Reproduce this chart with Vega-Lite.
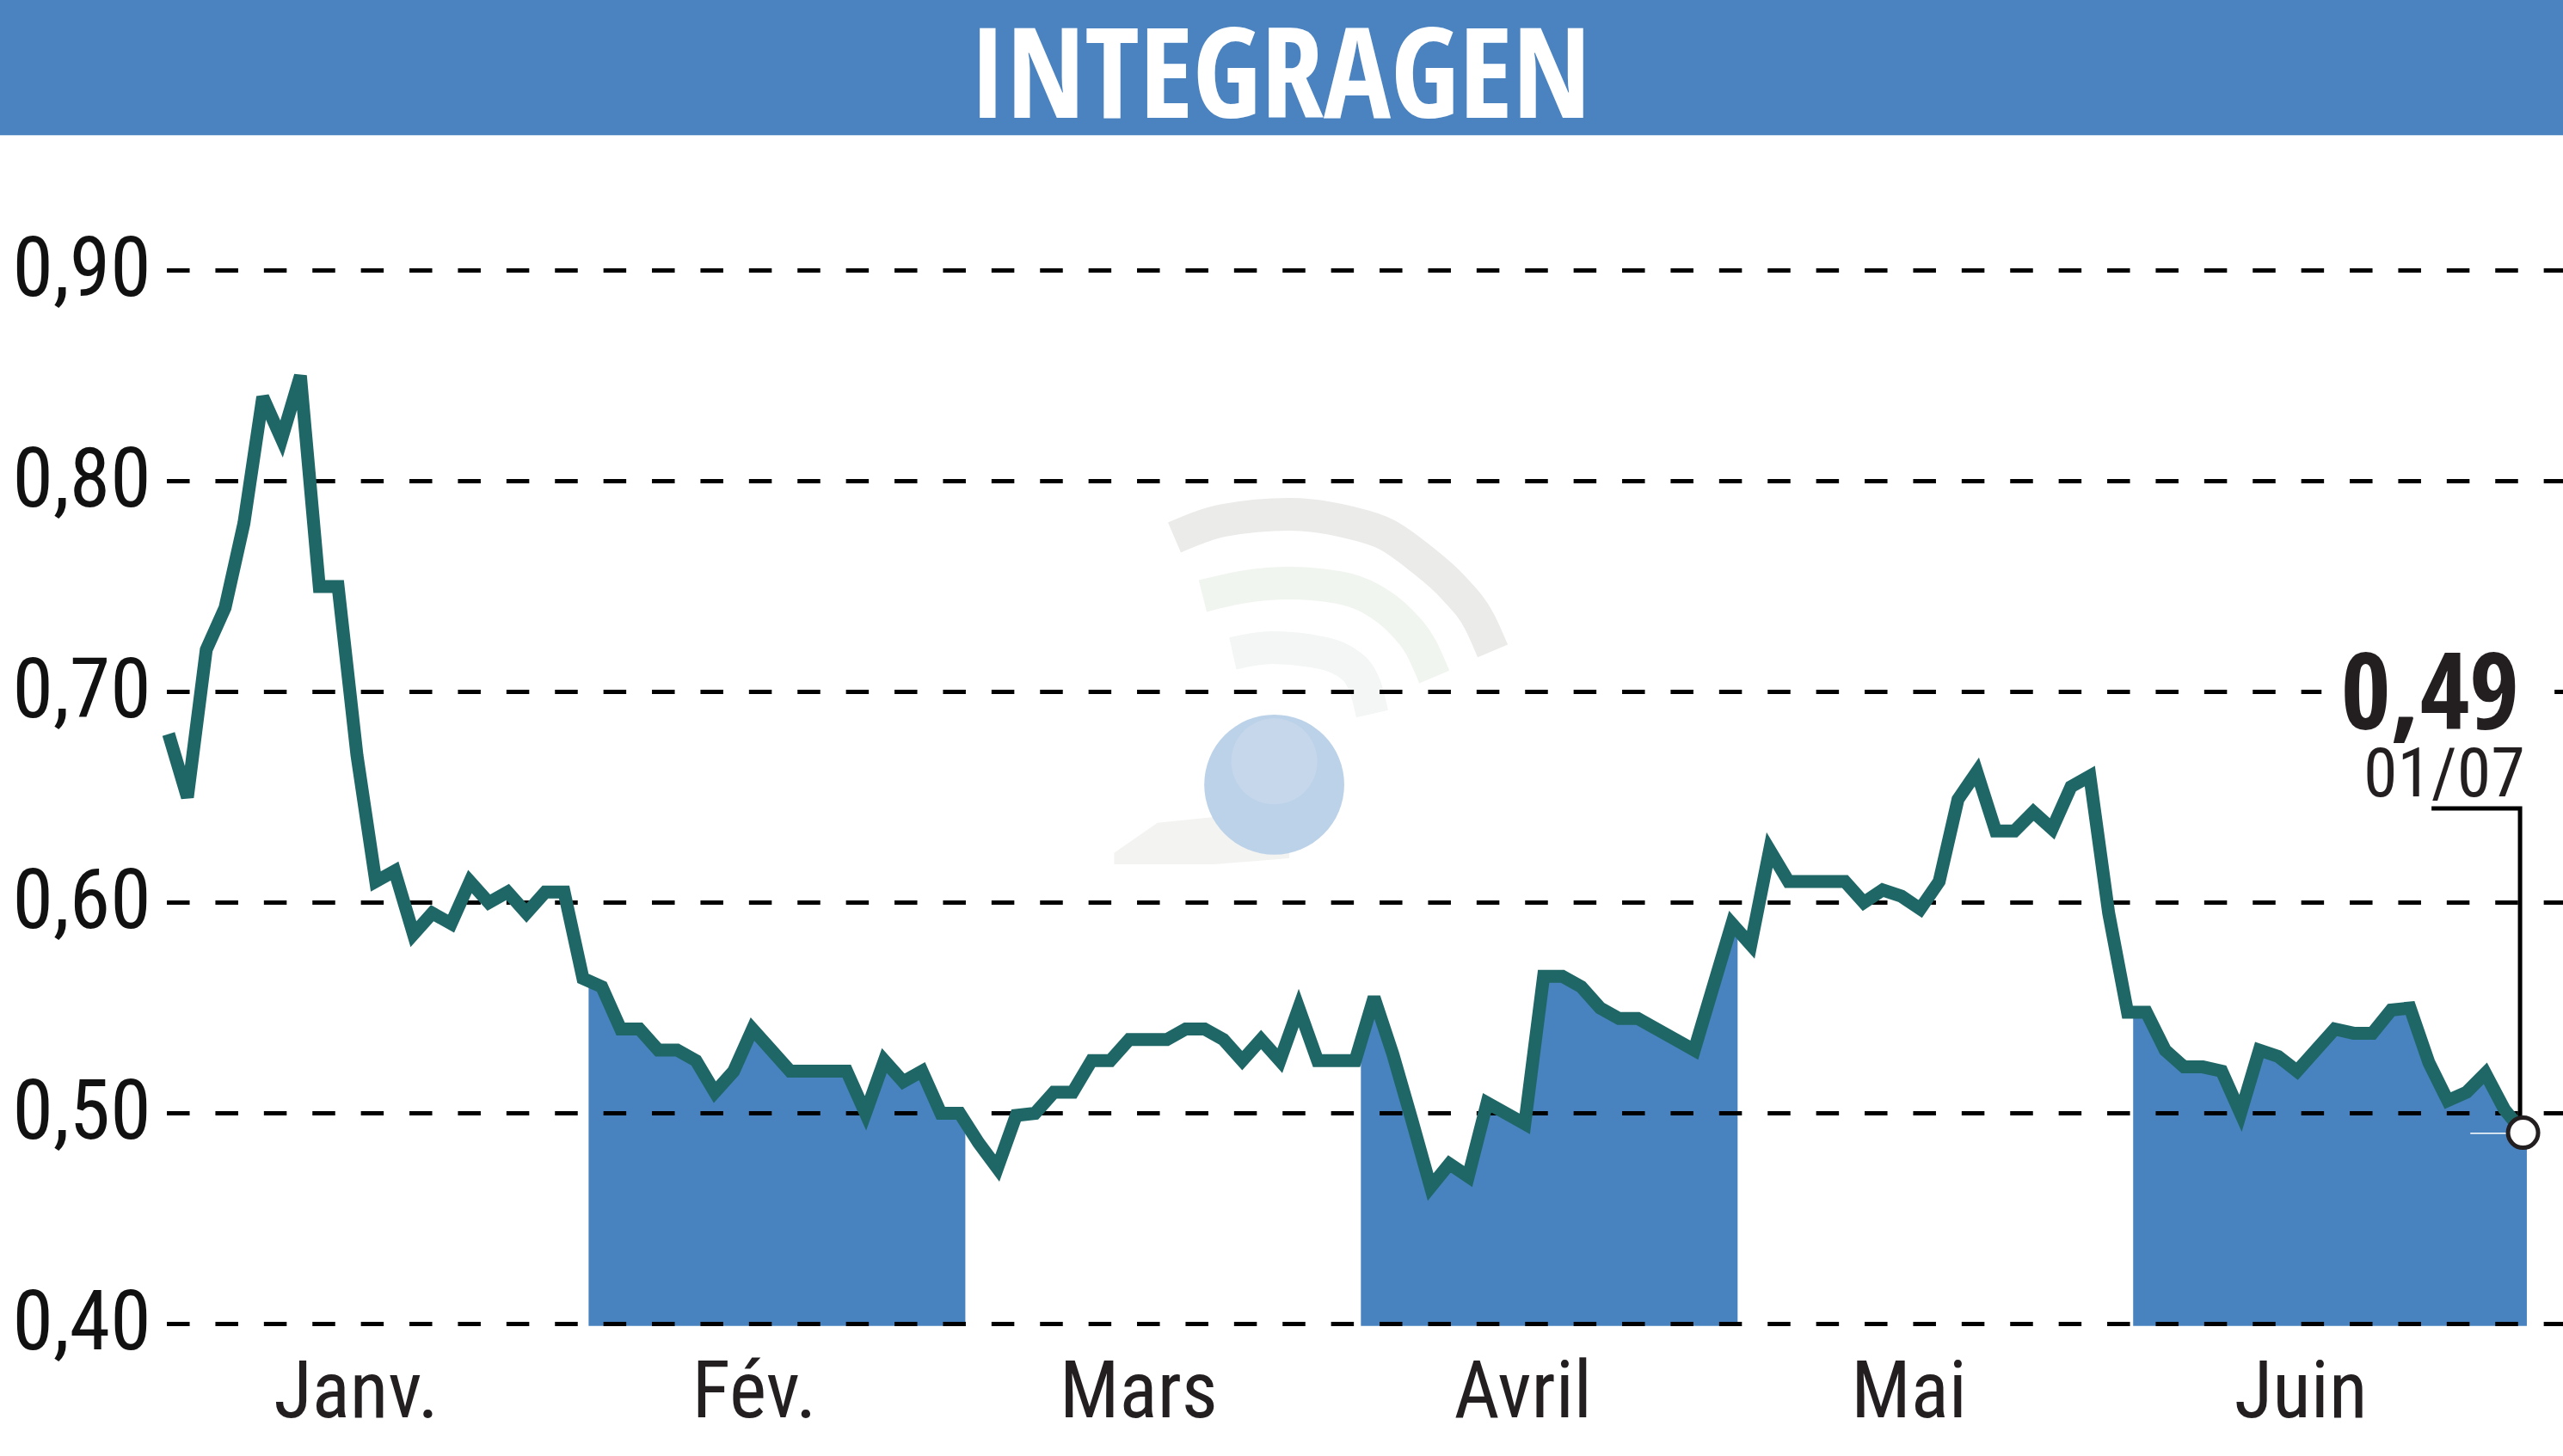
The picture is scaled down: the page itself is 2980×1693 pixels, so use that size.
{
  "$schema": "https://vega.github.io/schema/vega-lite/v6.json",
  "width": 2980,
  "height": 1693,
  "autosize": "none",
  "padding": 0,
  "background": "white",
  "config": {"view": {"stroke": null}},
  "datasets": {
    "prices": [
      {"i":0,"v":0.68,"month":"Janv."},{"i":1,"v":0.65,"month":"Janv."},{"i":2,"v":0.72,"month":"Janv."},{"i":3,"v":0.74,"month":"Janv."},{"i":4,"v":0.78,"month":"Janv."},{"i":5,"v":0.84,"month":"Janv."},{"i":6,"v":0.82,"month":"Janv."},{"i":7,"v":0.85,"month":"Janv."},{"i":8,"v":0.75,"month":"Janv."},{"i":9,"v":0.75,"month":"Janv."},
      {"i":10,"v":0.67,"month":"Janv."},{"i":11,"v":0.61,"month":"Janv."},{"i":12,"v":0.615,"month":"Janv."},{"i":13,"v":0.585,"month":"Janv."},{"i":14,"v":0.595,"month":"Janv."},{"i":15,"v":0.59,"month":"Janv."},{"i":16,"v":0.61,"month":"Janv."},{"i":17,"v":0.6,"month":"Janv."},{"i":18,"v":0.605,"month":"Janv."},{"i":19,"v":0.595,"month":"Janv."},
      {"i":20,"v":0.605,"month":"Janv."},{"i":21,"v":0.605,"month":"Janv."},{"i":22,"v":0.564,"month":"Janv."},
      {"i":22.3,"v":0.563,"month":"Fév.","edge":1},
      {"i":23,"v":0.56,"month":"Fév."},{"i":24,"v":0.54,"month":"Fév."},{"i":25,"v":0.54,"month":"Fév."},{"i":26,"v":0.53,"month":"Fév."},{"i":27,"v":0.53,"month":"Fév."},{"i":28,"v":0.525,"month":"Fév."},{"i":29,"v":0.51,"month":"Fév."},
      {"i":30,"v":0.52,"month":"Fév."},{"i":31,"v":0.54,"month":"Fév."},{"i":32,"v":0.53,"month":"Fév."},{"i":33,"v":0.52,"month":"Fév."},{"i":34,"v":0.52,"month":"Fév."},{"i":35,"v":0.52,"month":"Fév."},{"i":36,"v":0.52,"month":"Fév."},{"i":37,"v":0.5,"month":"Fév."},{"i":38,"v":0.525,"month":"Fév."},{"i":39,"v":0.515,"month":"Fév."},
      {"i":40,"v":0.52,"month":"Fév."},{"i":41,"v":0.5,"month":"Fév."},{"i":42,"v":0.5,"month":"Fév."},
      {"i":42.3,"v":0.496,"month":"Fév.","edge":1},
      {"i":43,"v":0.486,"month":"Mars"},{"i":44,"v":0.474,"month":"Mars"},{"i":45,"v":0.499,"month":"Mars"},{"i":46,"v":0.5,"month":"Mars"},{"i":47,"v":0.51,"month":"Mars"},{"i":48,"v":0.51,"month":"Mars"},{"i":49,"v":0.525,"month":"Mars"},
      {"i":50,"v":0.525,"month":"Mars"},{"i":51,"v":0.535,"month":"Mars"},{"i":52,"v":0.535,"month":"Mars"},{"i":53,"v":0.535,"month":"Mars"},{"i":54,"v":0.54,"month":"Mars"},{"i":55,"v":0.54,"month":"Mars"},{"i":56,"v":0.535,"month":"Mars"},{"i":57,"v":0.525,"month":"Mars"},{"i":58,"v":0.535,"month":"Mars"},{"i":59,"v":0.525,"month":"Mars"},
      {"i":60,"v":0.55,"month":"Mars"},{"i":61,"v":0.525,"month":"Mars"},{"i":62,"v":0.525,"month":"Mars"},{"i":63,"v":0.525,"month":"Mars"},
      {"i":63.3,"v":0.534,"month":"Avril","edge":1},
      {"i":64,"v":0.555,"month":"Avril"},{"i":65,"v":0.528,"month":"Avril"},{"i":66,"v":0.497,"month":"Avril"},{"i":67,"v":0.465,"month":"Avril"},{"i":68,"v":0.476,"month":"Avril"},{"i":69,"v":0.47,"month":"Avril"},
      {"i":70,"v":0.505,"month":"Avril"},{"i":71,"v":0.5,"month":"Avril"},{"i":72,"v":0.495,"month":"Avril"},{"i":73,"v":0.565,"month":"Avril"},{"i":74,"v":0.565,"month":"Avril"},{"i":75,"v":0.56,"month":"Avril"},{"i":76,"v":0.55,"month":"Avril"},{"i":77,"v":0.545,"month":"Avril"},{"i":78,"v":0.545,"month":"Avril"},{"i":79,"v":0.54,"month":"Avril"},
      {"i":80,"v":0.535,"month":"Avril"},{"i":81,"v":0.53,"month":"Avril"},{"i":82,"v":0.56,"month":"Avril"},{"i":83,"v":0.59,"month":"Avril"},
      {"i":83.3,"v":0.587,"month":"Avril","edge":1},
      {"i":84,"v":0.58,"month":"Mai"},{"i":85,"v":0.625,"month":"Mai"},{"i":86,"v":0.61,"month":"Mai"},{"i":87,"v":0.61,"month":"Mai"},{"i":88,"v":0.61,"month":"Mai"},{"i":89,"v":0.61,"month":"Mai"},
      {"i":90,"v":0.6,"month":"Mai"},{"i":91,"v":0.606,"month":"Mai"},{"i":92,"v":0.603,"month":"Mai"},{"i":93,"v":0.597,"month":"Mai"},{"i":94,"v":0.61,"month":"Mai"},{"i":95,"v":0.649,"month":"Mai"},{"i":96,"v":0.662,"month":"Mai"},{"i":97,"v":0.634,"month":"Mai"},{"i":98,"v":0.634,"month":"Mai"},{"i":99,"v":0.643,"month":"Mai"},
      {"i":100,"v":0.635,"month":"Mai"},{"i":101,"v":0.655,"month":"Mai"},{"i":102,"v":0.66,"month":"Mai"},{"i":103,"v":0.595,"month":"Mai"},{"i":104,"v":0.548,"month":"Mai"},
      {"i":104.3,"v":0.548,"month":"Juin","edge":1},
      {"i":105,"v":0.548,"month":"Juin"},{"i":106,"v":0.53,"month":"Juin"},{"i":107,"v":0.522,"month":"Juin"},{"i":108,"v":0.522,"month":"Juin"},{"i":109,"v":0.52,"month":"Juin"},
      {"i":110,"v":0.5,"month":"Juin"},{"i":111,"v":0.53,"month":"Juin"},{"i":112,"v":0.527,"month":"Juin"},{"i":113,"v":0.52,"month":"Juin"},{"i":114,"v":0.53,"month":"Juin"},{"i":115,"v":0.54,"month":"Juin"},{"i":116,"v":0.538,"month":"Juin"},{"i":117,"v":0.538,"month":"Juin"},{"i":118,"v":0.549,"month":"Juin"},{"i":119,"v":0.55,"month":"Juin"},
      {"i":120,"v":0.524,"month":"Juin"},{"i":121,"v":0.506,"month":"Juin"},{"i":122,"v":0.51,"month":"Juin"},{"i":123,"v":0.519,"month":"Juin"},{"i":124,"v":0.502,"month":"Juin"},{"i":125,"v":0.491,"month":"Juin"},
      {"i":125.2,"v":0.49,"month":"Juin","edge":1}
    ],
    "grid": [
      {"v":0.9,"i":-0.09,"i2":127.12},
      {"v":0.8,"i":-0.09,"i2":127.12},
      {"v":0.7,"i":-0.09,"i2":114.3},
      {"v":0.7,"i":126.67,"i2":127.12},
      {"v":0.6,"i":-0.09,"i2":127.12},
      {"v":0.5,"i":-0.09,"i2":127.12},
      {"v":0.4,"i":-0.09,"i2":127.12}
    ],
    "months": [
      {"i":9.96,"v":0.3557,"label":"Janv."},
      {"i":31.1,"v":0.3557,"label":"Fév."},
      {"i":51.5,"v":0.3557,"label":"Mars"},
      {"i":71.9,"v":0.3557,"label":"Avril"},
      {"i":92.4,"v":0.3557,"label":"Mai"},
      {"i":113.2,"v":0.3557,"label":"Juin"}
    ],
    "waves": [
      {"wave":"outer","i":53.4,"v":0.7733},{"wave":"outer","i":56,"v":0.7814},{"wave":"outer","i":59.5,"v":0.7843},{"wave":"outer","i":62.6,"v":0.7806},{"wave":"outer","i":64.7,"v":0.7745},{"wave":"outer","i":66.5,"v":0.7631},{"wave":"outer","i":68.2,"v":0.7496},{"wave":"outer","i":69.6,"v":0.7333},{"wave":"outer","i":70.3,"v":0.7194},
      {"wave":"middle","i":54.9,"v":0.7455},{"wave":"middle","i":57.2,"v":0.75},{"wave":"middle","i":59.5,"v":0.7516},{"wave":"middle","i":62.1,"v":0.7496},{"wave":"middle","i":63.9,"v":0.7439},{"wave":"middle","i":65.3,"v":0.7345},{"wave":"middle","i":66.5,"v":0.721},{"wave":"middle","i":67.2,"v":0.7071},
      {"wave":"inner","i":56.5,"v":0.7182},{"wave":"inner","i":58.6,"v":0.721},{"wave":"inner","i":60.7,"v":0.7194},{"wave":"inner","i":62.5,"v":0.7141},{"wave":"inner","i":63.5,"v":0.7031},{"wave":"inner","i":63.9,"v":0.6896}
    ]
  },
  "encoding": {
    "x": {"field": "i", "type": "quantitative", "scale": {"domain": [-8.95, 127.12], "nice": false, "zero": false}, "axis": null},
    "y": {
      "field": "v",
      "type": "quantitative",
      "scale": {"domain": [0.33735, 1.02837], "nice": false, "zero": false},
      "axis": {
        "values": [0.4, 0.5, 0.6, 0.7, 0.8, 0.9],
        "title": null,
        "domain": false,
        "ticks": false,
        "grid": false,
        "labelAlign": "left",
        "labelBaseline": "middle",
        "labelPadding": -14,
        "labelFont": "Roboto Condensed",
        "labelFontSize": 96,
        "labelColor": "#111111",
        "labelFlush": false,
        "labelOverlap": false,
        "labelBound": false,
        "labelExpr": "replace(format(datum.value, '.2f'), '.', ',')"
      }
    }
  },
  "layer": [
    {
      "data": {"values": [{"i": -8.95, "i2": 127.12, "v": 0.9642, "v2": 1.02837}]},
      "mark": {"type": "rect", "color": "#4a83c0"},
      "encoding": {"x2": {"field": "i2"}, "y2": {"field": "v2"}}
    },
    {
      "data": {"values": [{"i": 59, "v": 0.9724, "label": "INTEGRAGEN"}]},
      "mark": {"type": "text", "font": "Open Sans Condensed", "fontWeight": "bold", "fontSize": 146, "color": "white", "align": "center", "baseline": "alphabetic"},
      "encoding": {"text": {"field": "label"}}
    },
    {
      "data": {"values": [
        {"i": 50.2, "v": 0.6236, "v2": 0.6182},
        {"i": 52.5, "v": 0.6379, "v2": 0.6182},
        {"i": 55.5, "v": 0.6406, "v2": 0.6182},
        {"i": 59.5, "v": 0.6243, "v2": 0.621}
      ]},
      "mark": {"type": "area", "color": "#f3f3f1"},
      "encoding": {"y2": {"field": "v2"}}
    },
    {
      "data": {"name": "waves"},
      "mark": {"type": "line", "strokeWidth": 38, "strokeCap": "butt", "interpolate": "monotone"},
      "encoding": {
        "detail": {"field": "wave"},
        "color": {"field": "wave", "type": "nominal", "legend": null, "scale": {"domain": ["outer", "middle", "inner"], "range": ["#ebecea", "#f1f5f0", "#f3f6f4"]}}
      }
    },
    {
      "data": {"values": [{"i": 58.7, "v": 0.656}]},
      "mark": {"type": "point", "filled": true, "opacity": 1, "color": "#bcd2e8", "size": 26500}
    },
    {
      "data": {"values": [{"i": 58.7, "v": 0.667}]},
      "mark": {"type": "point", "filled": true, "opacity": 1, "color": "#c6d7eb", "size": 10000}
    },
    {
      "data": {"name": "prices"},
      "transform": [{"filter": "datum.month === 'Fév.' || datum.month === 'Avril' || datum.month === 'Juin'"}],
      "mark": {"type": "area", "color": "#4882bf"},
      "encoding": {"detail": {"field": "month"}, "y2": {"datum": 0.3991}}
    },
    {
      "data": {"name": "grid"},
      "mark": {"type": "rule", "color": "black", "strokeWidth": 5, "strokeDash": [26.5, 29.9]},
      "encoding": {"x2": {"field": "i2"}}
    },
    {
      "data": {"name": "prices"},
      "transform": [{"filter": "!datum.edge"}],
      "mark": {"type": "line", "color": "#1f6766", "strokeWidth": 15, "strokeJoin": "miter", "strokeMiterLimit": 3}
    },
    {
      "data": {"name": "months"},
      "mark": {"type": "text", "font": "Roboto Condensed", "fontSize": 92, "color": "#231f20", "align": "center", "baseline": "alphabetic"},
      "encoding": {"text": {"field": "label"}}
    },
    {
      "data": {"values": [{"i": 122.2, "i2": 124.4, "v": 0.4905}]},
      "mark": {"type": "rule", "color": "white", "strokeWidth": 1.5},
      "encoding": {"x2": {"field": "i2"}}
    },
    {
      "data": {"values": [{"i": 120.14, "v": 0.6447}, {"i": 124.84, "v": 0.6447}, {"i": 124.84, "v": 0.4978}]},
      "mark": {"type": "line", "color": "black", "strokeWidth": 5, "strokeJoin": "miter"}
    },
    {
      "data": {"values": [{"i": 125, "v": 0.4908}]},
      "mark": {"type": "point", "filled": true, "opacity": 1, "fill": "white", "stroke": "#231f20", "strokeWidth": 5, "size": 1225}
    },
    {
      "data": {"values": [{"i": 124.8, "v": 0.6822, "label": "0,49"}]},
      "mark": {"type": "text", "font": "Open Sans Condensed", "fontWeight": "bold", "fontSize": 125, "color": "#231f20", "align": "right", "baseline": "alphabetic"},
      "encoding": {"text": {"field": "label"}}
    },
    {
      "data": {"values": [{"i": 125.1, "v": 0.6504, "label": "01/07"}]},
      "mark": {"type": "text", "font": "Roboto Condensed", "fontSize": 80, "color": "#231f20", "align": "right", "baseline": "alphabetic"},
      "encoding": {"text": {"field": "label"}}
    }
  ]
}
